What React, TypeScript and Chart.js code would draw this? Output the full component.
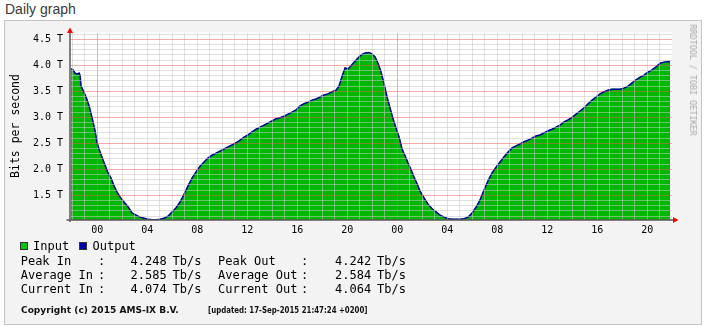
import React, { useEffect, useRef } from 'react';
import { Chart, registerables } from 'chart.js';

Chart.register(...registerables);

// Time in hours relative to the first midnight (00 of the first day)
const hours = [
  -2.1, -1.94, -1.78, -1.62, -1.46, -1.38, -1.3, -1.14, -0.9, -0.66, -0.42, -0.18, -0.02,
  0.22, 0.46, 0.7, 0.86, 1.1, 1.34, 1.58, 1.82, 2.14, 2.46, 2.78, 3.1, 3.42, 3.74, 4.06,
  4.38, 4.7, 5.02, 5.34, 5.66, 5.98, 6.3, 6.62, 6.94, 7.26, 7.58, 7.9, 8.22, 8.54, 8.86,
  9.18, 9.5, 9.82, 10.14, 10.46, 10.78, 11.1, 11.42, 11.74, 12.06, 12.38, 12.7, 13.02,
  13.34, 13.66, 13.98, 14.3, 14.62, 14.94, 15.26, 15.58, 15.9, 16.22, 16.54, 16.86, 17.18,
  17.5, 17.82, 18.14, 18.46, 18.78, 19.1, 19.34, 19.58, 19.82, 20.06, 20.3, 20.54, 20.78,
  21.02, 21.26, 21.5, 21.74, 21.98, 22.22, 22.46, 22.7, 22.94, 23.18, 23.42, 23.66, 23.9,
  24.14, 24.38, 24.62, 24.86, 25.1, 25.34, 25.58, 25.82, 26.14, 26.46, 26.78, 27.1, 27.42,
  27.74, 28.06, 28.38, 28.7, 29.02, 29.34, 29.66, 29.98, 30.3, 30.62, 30.94, 31.26, 31.58,
  31.9, 32.22, 32.54, 32.86, 33.18, 33.5, 33.82, 34.14, 34.46, 34.78, 35.1, 35.42, 35.74,
  36.06, 36.38, 36.7, 37.02, 37.34, 37.66, 37.98, 38.3, 38.62, 38.94, 39.26, 39.58, 39.9,
  40.22, 40.54, 40.86, 41.18, 41.5, 41.82, 42.14, 42.46, 42.78, 43.1, 43.42, 43.74, 44.06,
  44.38, 44.7, 45.02, 45.34, 45.66, 45.82,
];

// Input traffic, Tb/s
const inputTbps = [
  3.93, 3.91, 3.85, 3.83, 3.85, 3.81, 3.6, 3.52, 3.39, 3.22, 2.99, 2.74, 2.51,
  2.33, 2.18, 2.03, 1.93, 1.83, 1.68, 1.56, 1.47, 1.37, 1.28, 1.16, 1.12, 1.08, 1.06, 1.04,
  1.03, 1.03, 1.04, 1.06, 1.1, 1.18, 1.26, 1.37, 1.52, 1.68, 1.83, 1.95, 2.06, 2.14, 2.22,
  2.27, 2.31, 2.35, 2.39, 2.43, 2.47, 2.51, 2.56, 2.62, 2.66, 2.72, 2.77, 2.81,
  2.85, 2.89, 2.93, 2.97, 2.99, 3.02, 3.06, 3.1, 3.14, 3.22, 3.26, 3.29, 3.33,
  3.35, 3.39, 3.43, 3.45, 3.49, 3.52, 3.6, 3.79, 3.95, 3.93, 3.99, 4.06, 4.12,
  4.18, 4.22, 4.24, 4.248, 4.22, 4.16, 4.04, 3.87, 3.64, 3.39, 3.18, 2.97, 2.79,
  2.62, 2.39, 2.26, 2.12, 1.99, 1.85, 1.72, 1.58, 1.45, 1.33, 1.24, 1.18, 1.12,
  1.08, 1.05, 1.04, 1.04, 1.04, 1.05, 1.08, 1.16, 1.27, 1.41, 1.6, 1.78, 1.93,
  2.04, 2.14, 2.24, 2.33, 2.41, 2.45, 2.49, 2.53, 2.56, 2.6, 2.64, 2.66, 2.7,
  2.74, 2.77, 2.81, 2.85, 2.91, 2.95, 3.0, 3.06, 3.12, 3.18, 3.26, 3.33, 3.39,
  3.45, 3.49, 3.52, 3.54, 3.54, 3.54, 3.56, 3.6, 3.66, 3.72, 3.77, 3.81, 3.87,
  3.91, 3.97, 4.04, 4.06, 4.08, 4.074,
];

// Output traffic, Tb/s (follows the input edge almost exactly)
const outputTbps = [
  3.93, 3.91, 3.85, 3.83, 3.85, 3.81, 3.6, 3.52, 3.39, 3.22, 2.99, 2.74, 2.51,
  2.33, 2.18, 2.03, 1.93, 1.83, 1.68, 1.56, 1.47, 1.37, 1.28, 1.16, 1.12, 1.08, 1.06, 1.04,
  1.03, 1.03, 1.04, 1.06, 1.1, 1.18, 1.26, 1.37, 1.52, 1.68, 1.83, 1.95, 2.06, 2.14, 2.22,
  2.27, 2.31, 2.35, 2.39, 2.43, 2.47, 2.51, 2.56, 2.62, 2.66, 2.72, 2.77, 2.81,
  2.85, 2.89, 2.93, 2.97, 2.99, 3.02, 3.06, 3.1, 3.14, 3.22, 3.26, 3.29, 3.33,
  3.35, 3.39, 3.43, 3.45, 3.49, 3.52, 3.6, 3.79, 3.95, 3.93, 3.99, 4.06, 4.12,
  4.18, 4.22, 4.24, 4.242, 4.22, 4.16, 4.04, 3.87, 3.64, 3.39, 3.18, 2.97, 2.79,
  2.62, 2.39, 2.26, 2.12, 1.99, 1.85, 1.72, 1.58, 1.45, 1.33, 1.24, 1.18, 1.12,
  1.08, 1.05, 1.04, 1.04, 1.04, 1.05, 1.08, 1.16, 1.27, 1.41, 1.6, 1.78, 1.93,
  2.04, 2.14, 2.24, 2.33, 2.41, 2.45, 2.49, 2.53, 2.56, 2.6, 2.64, 2.66, 2.7,
  2.74, 2.77, 2.81, 2.85, 2.91, 2.95, 3.0, 3.06, 3.12, 3.18, 3.26, 3.33, 3.39,
  3.45, 3.49, 3.52, 3.54, 3.54, 3.54, 3.56, 3.6, 3.66, 3.72, 3.77, 3.81, 3.87,
  3.91, 3.97, 4.04, 4.06, 4.07, 4.064,
];

const xLabelHours = [0, 4, 8, 12, 16, 20, 24, 28, 32, 36, 40, 44];
const yMajorTicks = [1.5, 2.0, 2.5, 3.0, 3.5, 4.0, 4.5];

const X_MIN = -2.184;
const X_MAX = 45.976;
const Y_MIN = 1.025;
const Y_MAX = 4.62;

const statsRows = [
  ['Peak In', '4.248', 'Peak Out', '4.242'],
  ['Average In', '2.585', 'Average Out', '2.584'],
  ['Current In', '4.074', 'Current Out', '4.064'],
];

const MONO = "'DejaVu Sans Mono', monospace";
const GREEN = '#00b800';
const BLUE = '#00009c';

const decorPlugin = {
  id: 'rrdDecor',
  beforeDraw(chart: any) {
    const { ctx, chartArea } = chart;
    ctx.save();
    ctx.fillStyle = '#ffffff';
    ctx.fillRect(chartArea.left, chartArea.top - 1, chartArea.right - chartArea.left, chartArea.bottom - chartArea.top + 1);
    ctx.restore();
  },
  afterDraw(chart: any) {
    const { ctx, chartArea } = chart;
    const l = chartArea.left;
    const b = chartArea.bottom;
    const r = chartArea.right;
    const t = chartArea.top;
    ctx.save();
    ctx.strokeStyle = '#5a5a5a';
    ctx.lineWidth = 1.5;
    ctx.beginPath();
    ctx.moveTo(l, b + 2);
    ctx.lineTo(l, t - 1);
    ctx.moveTo(l - 3.5, b);
    ctx.lineTo(r + 1, b);
    ctx.stroke();
    ctx.fillStyle = '#ff0000';
    ctx.beginPath();
    ctx.moveTo(l, t - 5.5);
    ctx.lineTo(l - 3, t);
    ctx.lineTo(l + 3, t);
    ctx.closePath();
    ctx.fill();
    ctx.beginPath();
    ctx.moveTo(r + 6.5, b);
    ctx.lineTo(r + 1, b - 3);
    ctx.lineTo(r + 1, b + 3);
    ctx.closePath();
    ctx.fill();
    ctx.restore();
  },
};

function ChartCanvas() {
  const ref = useRef<HTMLCanvasElement>(null);
  useEffect(() => {
    if (!ref.current) return;
    const inputPts = hours.map((h, i) => ({ x: h, y: inputTbps[i] }));
    const outputPts = hours.map((h, i) => ({ x: h, y: outputTbps[i] }));
    const minorGrid = 'rgba(200,200,200,0.55)';
    const majorGrid = 'rgba(235,90,90,0.5)';
    const chart = new Chart(ref.current, {
      type: 'line',
      data: {
        datasets: [
          {
            label: 'Output',
            data: outputPts,
            borderColor: BLUE,
            borderWidth: 1.5,
            fill: false,
            pointRadius: 0,
            tension: 0,
            order: 0,
          },
          {
            label: 'Input',
            data: inputPts,
            borderColor: GREEN,
            backgroundColor: GREEN,
            borderWidth: 1,
            fill: 'start',
            pointRadius: 0,
            tension: 0,
            order: 1,
          },
        ],
      },
      options: {
        responsive: false,
        animation: false,
        devicePixelRatio: 1,
        layout: { padding: { left: 0, right: 39, top: 33, bottom: 87 } },
        plugins: { legend: { display: false }, tooltip: { enabled: false } },
        scales: {
          x: {
            type: 'linear',
            min: X_MIN,
            max: X_MAX,
            afterBuildTicks: (scale: any) => {
              const t = [];
              for (let h = Math.ceil(X_MIN); h <= Math.floor(X_MAX); h++) t.push({ value: h });
              scale.ticks = t;
            },
            afterFit: (scale: any) => {
              scale.height = 20;
            },
            grid: {
              z: 1,
              drawTicks: false,
              lineWidth: 1,
              color: (c: any) => (c.tick && ((c.tick.value % 24) + 24) % 24 === 0 ? majorGrid : minorGrid),
            },
            border: { display: false },
            ticks: {
              autoSkip: false,
              maxRotation: 0,
              padding: 4,
              color: '#000',
              font: { family: MONO, size: 10 },
              callback: (v: any) =>
                xLabelHours.includes(v) ? String(((v % 24) + 24) % 24).padStart(2, '0') : '',
            },
          },
          y: {
            type: 'linear',
            min: Y_MIN,
            max: Y_MAX,
            afterBuildTicks: (scale: any) => {
              const t = [];
              for (let k = 11; k <= 46; k++) t.push({ value: k / 10 });
              scale.ticks = t;
            },
            afterFit: (scale: any) => {
              scale.width = 70;
            },
            grid: {
              z: 1,
              drawTicks: false,
              lineWidth: 1,
              color: (c: any) =>
                c.tick && Math.round(c.tick.value * 10) % 5 === 0 ? majorGrid : minorGrid,
            },
            border: { display: false },
            ticks: {
              autoSkip: false,
              padding: 7,
              color: '#000',
              font: { family: MONO, size: 10 },
              callback: (v: any) => {
                const major = yMajorTicks.find((m) => Math.abs(m - v) < 1e-6);
                return major !== undefined ? major.toFixed(1) + ' T' : '';
              },
            },
          },
        },
      },
      plugins: [decorPlugin],
    } as any);
    return () => chart.destroy();
  }, []);
  return <canvas ref={ref} width={711} height={327} style={{ position: 'absolute', left: 0, top: 0 }} />;
}

const abs = (left: number, top: number, extra: any = {}) => ({
  position: 'absolute' as const,
  left,
  top,
  whiteSpace: 'pre' as const,
  lineHeight: '14px',
  ...extra,
});

const swatch = (left: number, color: string) => ({
  position: 'absolute' as const,
  left,
  top: 241.5,
  width: 8,
  height: 8,
  boxSizing: 'border-box' as const,
  background: color,
  border: '1px solid #333',
});

const smallFont = {
  fontFamily: "'DejaVu Sans Condensed', 'DejaVu Sans', sans-serif",
  fontSize: 9.5,
  fontWeight: 'bold',
  color: '#111',
  lineHeight: '12px',
};

export default function App() {
  const rowTops = [254, 267.6, 281.6];
  return (
    <div style={{ position: 'absolute', left: 0, top: 0, width: 711, height: 327, overflow: 'hidden', background: '#fff' }}>
      <div
        style={{
          position: 'absolute',
          left: 5,
          top: 1,
          fontFamily: "'Liberation Sans', Arial, sans-serif",
          fontSize: 14,
          color: '#3a3a3a',
          lineHeight: '17px',
        }}
      >
        Daily graph
      </div>
      <div
        style={{
          position: 'absolute',
          left: 4,
          top: 20,
          width: 698,
          height: 305,
          boxSizing: 'border-box',
          border: '1px solid #c4c4c4',
          background: '#f3f3f3',
        }}
      />
      <ChartCanvas />
      <div
        style={{
          position: 'absolute',
          left: 14.5,
          top: 126,
          transform: 'translate(-50%, -50%) rotate(-90deg)',
          fontFamily: MONO,
          fontSize: 11.5,
          color: '#000',
          whiteSpace: 'pre',
          lineHeight: '14px',
        }}
      >
        Bits per second
      </div>
      <div
        style={{
          position: 'absolute',
          left: 692.5,
          top: 80,
          transform: 'translate(-50%, -50%) rotate(90deg)',
          fontFamily: MONO,
          fontSize: 8.4,
          color: '#a8a8a8',
          whiteSpace: 'pre',
          lineHeight: '10px',
        }}
      >
        RRDTOOL / TOBI OETIKER
      </div>
      <div style={{ fontFamily: MONO, fontSize: 12, color: '#000' }}>
        <div style={swatch(20, '#00c800')} />
        <div style={abs(33, 239)}>Input</div>
        <div style={swatch(79, '#0000b0')} />
        <div style={abs(92.5, 239)}>Output</div>
        {statsRows.map((row, i) => (
          <React.Fragment key={i}>
            <div style={abs(20.7, rowTops[i])}>{row[0]}</div>
            <div style={abs(98, rowTops[i])}>:</div>
            <div style={abs(130.5, rowTops[i])}>{row[1]}</div>
            <div style={abs(172.5, rowTops[i])}>Tb/s</div>
            <div style={abs(218, rowTops[i])}>{row[2]}</div>
            <div style={abs(301, rowTops[i])}>:</div>
            <div style={abs(335, rowTops[i])}>{row[3]}</div>
            <div style={abs(377, rowTops[i])}>Tb/s</div>
          </React.Fragment>
        ))}
      </div>
      <div style={abs(20.7, 304, { ...smallFont, transform: 'scaleX(1.06)', transformOrigin: 'left center' })}>
        Copyright (c) 2015 AMS-IX B.V.
      </div>
      <div style={abs(208, 304, { ...smallFont, transform: 'scaleX(0.82)', transformOrigin: 'left center' })}>
        [updated: 17-Sep-2015 21:47:24 +0200]
      </div>
    </div>
  );
}
